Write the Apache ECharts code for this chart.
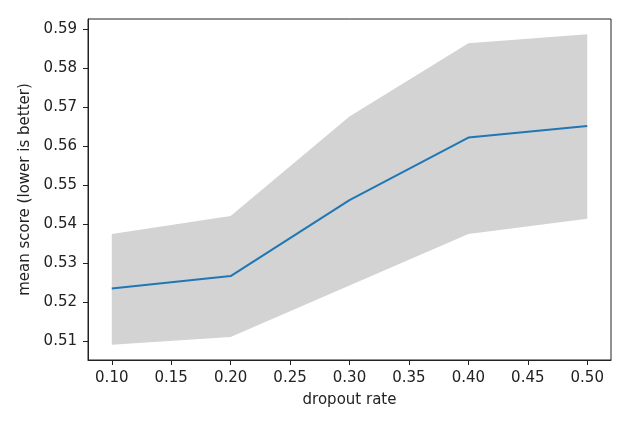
<!DOCTYPE html>
<html>
<head>
<meta charset="utf-8">
<script src="https://cdn.jsdelivr.net/npm/echarts@6/dist/echarts.min.js"></script>
<style>html,body{margin:0;padding:0;background:#fff}#c{width:639px;height:425px}</style>
</head>
<body>
<div id="c"></div>
<script>
var dropout = [0.1, 0.2, 0.3, 0.4, 0.5];
var meanScore = [0.5234, 0.5266, 0.5461, 0.5621, 0.5651];
var upperBound = [0.5374, 0.5420, 0.5675, 0.5863, 0.5886];
var lowerBound = [0.5090, 0.5110, 0.5242, 0.5374, 0.5413];
var xTicks = [0.10, 0.15, 0.20, 0.25, 0.30, 0.35, 0.40, 0.45, 0.50];
var yTicks = [0.51, 0.52, 0.53, 0.54, 0.55, 0.56, 0.57, 0.58, 0.59];

var chart = echarts.init(document.getElementById('c'), null, {renderer: 'canvas'});
var font = 'DejaVu Sans';
var bandData = dropout.map(function (x, i) { return [x, lowerBound[i], upperBound[i]]; });
var lineData = dropout.map(function (x, i) { return [x, meanScore[i]]; });

chart.setOption({
  animation: false,
  backgroundColor: '#fff',
  grid: {left: 88, right: 28, top: 19, bottom: 65, show: true, borderColor: '#222', borderWidth: 1, backgroundColor: 'transparent'},
  xAxis: {
    type: 'value', min: 0.08, max: 0.52,
    name: 'dropout rate', nameLocation: 'middle', nameGap: 33,
    nameTextStyle: {fontFamily: font, fontSize: 15, color: '#222'},
    axisLine: {show: true, lineStyle: {color: '#222', width: 1}},
    axisTick: {show: true, length: 5, lineStyle: {color: '#222'}, customValues: xTicks},
    axisLabel: {customValues: xTicks, margin: 11, fontFamily: font, fontSize: 15, color: '#222',
      formatter: function (v) { return v.toFixed(2); }},
    splitLine: {show: false}
  },
  yAxis: {
    type: 'value', min: 0.5051, max: 0.5925,
    name: 'mean score (lower is better)', nameLocation: 'middle', nameGap: 55,
    nameTextStyle: {fontFamily: font, fontSize: 15, color: '#222'},
    axisLine: {show: true, lineStyle: {color: '#222', width: 1}},
    axisTick: {show: true, length: 5, lineStyle: {color: '#222'}, customValues: yTicks},
    axisLabel: {customValues: yTicks, margin: 11, fontFamily: font, fontSize: 15, color: '#222',
      formatter: function (v) { return v.toFixed(2); }},
    splitLine: {show: false}
  },
  series: [
    {
      type: 'custom', data: bandData, silent: true, z: 1,
      renderItem: function (params, api) {
        if (params.dataIndex !== 0) { return null; }
        var n = bandData.length, pts = [], i;
        for (i = 0; i < n; i++) { pts.push(api.coord([bandData[i][0], bandData[i][2]])); }
        for (i = n - 1; i >= 0; i--) { pts.push(api.coord([bandData[i][0], bandData[i][1]])); }
        return {type: 'polygon', shape: {points: pts}, style: {fill: '#d3d3d3', stroke: null}};
      },
      encode: {x: 0, y: [1, 2]}
    },
    {type: 'line', data: lineData, symbol: 'none', lineStyle: {color: '#1f77b4', width: 2}, z: 5}
  ]
});
</script>
</body>
</html>
